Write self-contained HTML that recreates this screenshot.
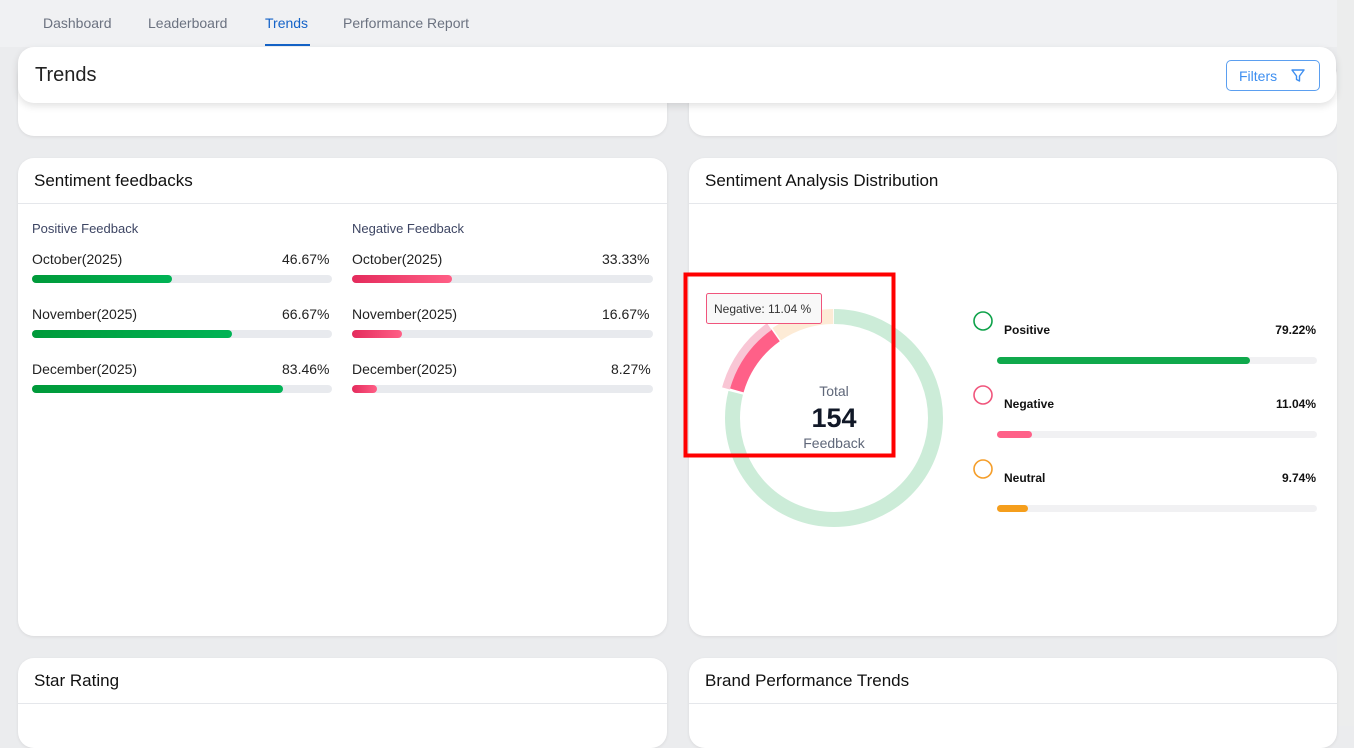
<!DOCTYPE html>
<html><head><meta charset="utf-8"><style>
*{box-sizing:border-box;margin:0;padding:0}
body{width:1354px;height:726px;overflow:hidden;background:#ebecee;font-family:"Liberation Sans",Arial,sans-serif;position:relative}
.topbar{position:absolute;left:0;top:0;width:1337px;height:47px;background:#f0f1f3}
.tab{position:absolute;top:15px;font-size:14px;color:#6b7280}
.card{position:absolute;background:#fff;border-radius:16px;box-shadow:0 1px 3px rgba(0,0,0,.08)}
.hd{height:46px;border-bottom:1px solid #e5e7eb;padding:13px 16px;font-size:17px;color:#111}
.lbl{position:absolute;font-size:14px;color:#222}
.bar{position:absolute;height:8px;border-radius:4px;background:#e8eaee;width:300px}
.bar i{display:block;height:8px;border-radius:4px}
.g{background:linear-gradient(90deg,#009a3a,#00b355)}
.r{background:linear-gradient(90deg,#e42b5c,#ff5f86)}
</style></head><body>
<div class="card" style="left:18px;top:60px;width:649px;height:76px"></div>
<div class="card" style="left:689px;top:60px;width:648px;height:76px"></div>
<div class="topbar"></div>
<div style="position:absolute;left:1337px;top:0;width:17px;height:726px;background:#eceded"></div>
<div class="tab" style="left:43px">Dashboard</div>
<div class="tab" style="left:148px">Leaderboard</div>
<div class="tab" style="left:265px;color:#1463c8">Trends</div>
<div style="position:absolute;left:265px;top:44px;width:45px;height:2px;background:#1463c8"></div>
<div class="tab" style="left:343px">Performance Report</div>

<div class="card" style="left:18px;top:47px;width:1318px;height:56px;box-shadow:0 3px 8px rgba(0,0,0,.12)">
<div style="position:absolute;left:17px;top:17px;font-size:20px;color:#222">Trends</div>
<div style="position:absolute;left:1208px;top:13px;width:94px;height:31px;border:1px solid #5b9ff0;border-radius:5px;color:#3d8ef0;font-size:14px;padding:7px 0 0 12px">Filters
<svg width="16" height="16" viewBox="0 0 16 16" style="position:absolute;left:63px;top:7px"><path d="M2 2h12l-4.5 6v5l-3-1.5V8z" fill="none" stroke="#3d8ef0" stroke-width="1.4" stroke-linejoin="round"/></svg></div>
</div>

<div class="card" style="left:18px;top:158px;width:649px;height:478px">
<div class="hd">Sentiment feedbacks</div>
<div class="lbl" style="left:14px;top:63px;font-size:13px;color:#3d4563">Positive Feedback</div>
<div class="lbl" style="left:334px;top:63px;font-size:13px;color:#3d4563">Negative Feedback</div>
<div class="lbl" style="left:14px;top:93px">October(2025)</div><div class="lbl" style="left:264px;top:93px">46.67%</div>
<div class="bar" style="left:14px;top:117px"><i class="g" style="width:140px"></i></div>
<div class="lbl" style="left:14px;top:148px">November(2025)</div><div class="lbl" style="left:264px;top:148px">66.67%</div>
<div class="bar" style="left:14px;top:172px"><i class="g" style="width:200px"></i></div>
<div class="lbl" style="left:14px;top:203px">December(2025)</div><div class="lbl" style="left:264px;top:203px">83.46%</div>
<div class="bar" style="left:14px;top:227px"><i class="g" style="width:251px"></i></div>
<div class="lbl" style="left:334px;top:93px">October(2025)</div><div class="lbl" style="left:584px;top:93px">33.33%</div>
<div class="bar" style="left:334px;top:117px;width:301px"><i class="r" style="width:100px"></i></div>
<div class="lbl" style="left:334px;top:148px">November(2025)</div><div class="lbl" style="left:584px;top:148px">16.67%</div>
<div class="bar" style="left:334px;top:172px;width:301px"><i class="r" style="width:50px"></i></div>
<div class="lbl" style="left:334px;top:203px">December(2025)</div><div class="lbl" style="left:593px;top:203px">8.27%</div>
<div class="bar" style="left:334px;top:227px;width:301px"><i class="r" style="width:25px"></i></div>
</div>

<div class="card" style="left:689px;top:158px;width:648px;height:478px">
<div class="hd">Sentiment Analysis Distribution</div>
</div>
<svg style="position:absolute;left:0;top:0" width="1354" height="726">
<g transform="rotate(-90 834 418)" fill="none">
<circle cx="834" cy="418" r="101.5" stroke="#ccecd8" stroke-width="15" stroke-dasharray="503.7 134"/>
<circle cx="834" cy="418" r="101.5" stroke="#ff6088" stroke-width="15" stroke-dasharray="0 506.2 68.9 100"/>
<circle cx="834" cy="418" r="112" stroke="#f9c6d5" stroke-width="8" stroke-dasharray="0 557.5 77 100"/>
<circle cx="834" cy="418" r="101.5" stroke="#fdebd6" stroke-width="15" stroke-dasharray="0 576.6 60.1 10"/>
</g>
<text x="834" y="396" text-anchor="middle" font-size="14" fill="#5f6779" font-family="Liberation Sans">Total</text>
<text x="834" y="427" text-anchor="middle" font-size="27" font-weight="bold" fill="#111827" font-family="Liberation Sans">154</text>
<text x="834" y="448" text-anchor="middle" font-size="14" fill="#5f6779" font-family="Liberation Sans">Feedback</text>
<rect x="706.5" y="293.5" width="115" height="30" rx="2" fill="#f8f8f8" stroke="#f0557c"/>
<text x="714" y="313" font-size="12" fill="#333" font-family="Liberation Sans">Negative: 11.04 %</text>
<rect x="685.5" y="274.5" width="208" height="181" fill="none" stroke="#f00" stroke-width="4"/>
<g font-family="Liberation Sans" font-size="12" font-weight="bold" fill="#111">
<circle cx="983" cy="321" r="9" fill="none" stroke="#0ea24a" stroke-width="1.6"/>
<text x="1004" y="334">Positive</text><text x="1316" y="334" text-anchor="end">79.22%</text>
<rect x="997" y="357" width="320" height="7" rx="3.5" fill="#f1f1f3"/><rect x="997" y="357" width="253" height="7" rx="3.5" fill="#10a94c"/>
<circle cx="983" cy="395" r="9" fill="none" stroke="#f0557c" stroke-width="1.6"/>
<text x="1004" y="408">Negative</text><text x="1316" y="408" text-anchor="end">11.04%</text>
<rect x="997" y="431" width="320" height="7" rx="3.5" fill="#f1f1f3"/><rect x="997" y="431" width="35" height="7" rx="3.5" fill="#ff6088"/>
<circle cx="983" cy="469" r="9" fill="none" stroke="#f59e2a" stroke-width="1.6"/>
<text x="1004" y="482">Neutral</text><text x="1316" y="482" text-anchor="end">9.74%</text>
<rect x="997" y="505" width="320" height="7" rx="3.5" fill="#f1f1f3"/><rect x="997" y="505" width="31" height="7" rx="3.5" fill="#f59e1c"/>
</g>
</svg>

<div class="card" style="left:18px;top:658px;width:649px;height:90px"><div class="hd">Star Rating</div></div>
<div class="card" style="left:689px;top:658px;width:648px;height:90px"><div class="hd">Brand Performance Trends</div></div>
</body></html>
